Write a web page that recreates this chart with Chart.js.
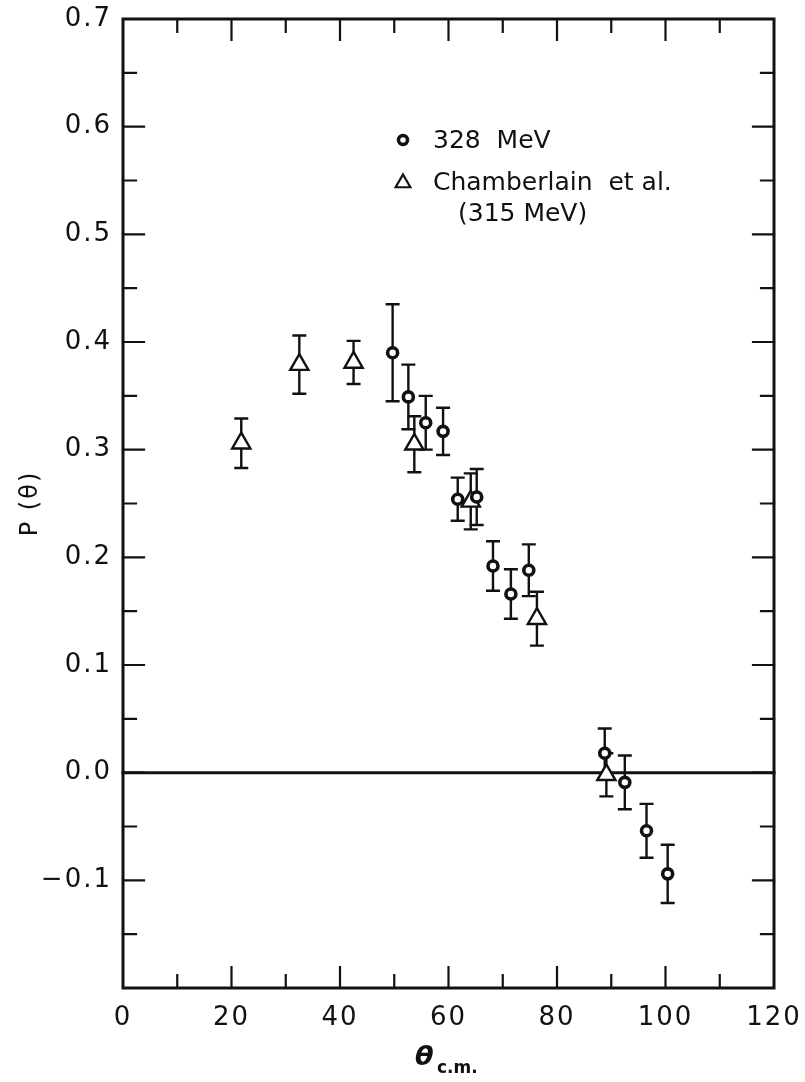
<!DOCTYPE html>
<html>
<head>
<meta charset="utf-8">
<script src="https://cdn.jsdelivr.net/npm/chart.js@4.4.0/dist/chart.umd.min.js"></script>
<style>
  html, body { margin: 0; padding: 0; background: #fff; }
</style>
</head>
<body>
<canvas id="pol" width="805" height="1082"></canvas>
<script>
// Polarization P(theta) versus c.m. angle
const xTickValues = [0, 20, 40, 60, 80, 100, 120];
const xTickLabels = ['0', '20', '40', '60', '80', '100', '120'];
const yTickValues = [0.7, 0.6, 0.5, 0.4, 0.3, 0.2, 0.1, 0.0, -0.1];
const yTickLabels = ['0.7', '0.6', '0.5', '0.4', '0.3', '0.2', '0.1', '0.0', '−0.1'];

// 328 MeV measurements
const theta328 = [49.7, 52.6, 55.8, 59.0, 61.7, 65.2, 68.2, 71.5, 74.8, 88.8, 92.5, 96.5, 100.4];
const pol328   = [0.390, 0.349, 0.325, 0.317, 0.254, 0.256, 0.192, 0.166, 0.188, 0.018, -0.009, -0.054, -0.094];
const err328   = [0.045, 0.030, 0.025, 0.022, 0.020, 0.026, 0.023, 0.023, 0.024, 0.023, 0.025, 0.025, 0.027];

// Chamberlain et al. (315 MeV)
const thetaCham = [21.8, 32.5, 42.5, 53.7, 64.1, 76.3, 89.1];
const polCham   = [0.306, 0.379, 0.381, 0.305, 0.252, 0.143, -0.002];
const errCham   = [0.023, 0.027, 0.020, 0.026, 0.026, 0.025, 0.020];

const ink = '#111';
const fontFam = '"DejaVu Sans", sans-serif';

function pts(xs, ys) {
  return xs.map((x, i) => ({ x: x, y: ys[i] }));
}

function labelFor(values, labels, v) {
  const i = values.findIndex(t => Math.abs(t - v) < 1e-6);
  return i < 0 ? null : labels[i];
}

// wider lettering for all canvas text
const spacing = {
  id: 'spacing',
  beforeDraw(chart) { chart.ctx.letterSpacing = '2px'; },
  afterDraw(chart) { chart.ctx.letterSpacing = '0px'; }
};

// frame, inward ticks and the zero line
const frame = {
  id: 'frame',
  beforeDatasetsDraw(chart) {
    const { ctx, chartArea: a } = chart;
    const xs = chart.scales.x, ys = chart.scales.y;
    ctx.save();
    ctx.strokeStyle = ink;
    ctx.lineCap = 'square';

    ctx.lineWidth = 2.2;
    ctx.beginPath();
    for (let v = 10; v < 120; v += 10) {
      const px = xs.getPixelForValue(v);
      const len = v % 20 === 0 ? 21 : 13;
      ctx.moveTo(px, a.bottom); ctx.lineTo(px, a.bottom - len);
      ctx.moveTo(px, a.top); ctx.lineTo(px, a.top + len);
    }
    for (let k = -3; k <= 13; k++) {
      const v = k * 0.05;
      const py = ys.getPixelForValue(v);
      const len = k % 2 === 0 ? 21 : 13;
      ctx.moveTo(a.left, py); ctx.lineTo(a.left + len, py);
      ctx.moveTo(a.right, py); ctx.lineTo(a.right - len, py);
    }
    ctx.stroke();

    // zero line
    const y0 = ys.getPixelForValue(0);
    ctx.lineWidth = 3;
    ctx.beginPath();
    ctx.moveTo(a.left, y0); ctx.lineTo(a.right, y0);
    ctx.stroke();

    ctx.lineWidth = 3;
    ctx.strokeRect(a.left, a.top, a.right - a.left, a.bottom - a.top);
    ctx.restore();
  }
};

// vertical error bars with caps, under the markers
const errorBars = {
  id: 'errorBars',
  beforeDatasetsDraw(chart) {
    const ctx = chart.ctx;
    const xs = chart.scales.x, ys = chart.scales.y;
    ctx.save();
    ctx.strokeStyle = ink;
    ctx.lineWidth = 2.4;
    chart.data.datasets.forEach(ds => {
      ds.data.forEach((p, i) => {
        const e = ds.yErr[i];
        const px = xs.getPixelForValue(p.x);
        const hi = ys.getPixelForValue(p.y + e);
        const lo = ys.getPixelForValue(p.y - e);
        ctx.beginPath();
        ctx.moveTo(px, hi); ctx.lineTo(px, lo);
        ctx.moveTo(px - 7, hi); ctx.lineTo(px + 7, hi);
        ctx.moveTo(px - 7, lo); ctx.lineTo(px + 7, lo);
        ctx.stroke();
      });
    });
    ctx.restore();
  }
};

// key in the upper part of the plot and the theta_c.m. axis title
const keyAndTitle = {
  id: 'keyAndTitle',
  afterDraw(chart) {
    const ctx = chart.ctx;
    ctx.save();
    ctx.fillStyle = '#fff';
    ctx.strokeStyle = ink;

    ctx.lineWidth = 3.5;
    ctx.beginPath();
    ctx.arc(403, 140, 4.5, 0, Math.PI * 2);
    ctx.fill(); ctx.stroke();

    ctx.lineWidth = 2.2;
    const r = 8.5;
    ctx.beginPath();
    ctx.moveTo(403, 183 - r);
    ctx.lineTo(403 + r * 0.866, 183 + r / 2);
    ctx.lineTo(403 - r * 0.866, 183 + r / 2);
    ctx.closePath();
    ctx.fill(); ctx.stroke();

    ctx.fillStyle = ink;
    ctx.font = '25px ' + fontFam;
    ctx.textBaseline = 'middle';
    ctx.textAlign = 'left';
    ctx.fillText('328  MeV', 433, 141);
    ctx.fillText('Chamberlain  et al.', 433, 183);
    ctx.fillText('(315 MeV)', 458, 214);

    ctx.textBaseline = 'alphabetic';
    ctx.font = 'italic bold 27px ' + fontFam;
    ctx.fillText('θ', 415, 1065);
    ctx.font = 'bold 17px ' + fontFam;
    ctx.fillText('c.m.', 437, 1073);
    ctx.restore();
  }
};

new Chart(document.getElementById('pol'), {
  type: 'scatter',
  data: {
    datasets: [
      {
        label: '328 MeV',
        data: pts(theta328, pol328),
        yErr: err328,
        pointStyle: 'circle',
        radius: 5,
        borderWidth: 3.6,
        borderColor: ink,
        backgroundColor: '#fff'
      },
      {
        label: 'Chamberlain et al. (315 MeV)',
        data: pts(thetaCham, polCham),
        yErr: errCham,
        pointStyle: 'triangle',
        radius: 10.5,
        borderWidth: 2.4,
        borderColor: ink,
        backgroundColor: '#fff'
      }
    ]
  },
  options: {
    responsive: false,
    devicePixelRatio: 1,
    animation: false,
    events: [],
    layout: { padding: { top: 19, right: 31, left: 0, bottom: 0 } },
    plugins: {
      legend: { display: false },
      tooltip: { enabled: false }
    },
    scales: {
      x: {
        type: 'linear',
        min: 0,
        max: 120,
        grid: { display: false, drawTicks: false },
        border: { display: false },
        afterBuildTicks: s => { s.ticks = xTickValues.map(v => ({ value: v })); },
        afterFit: s => { s.height = 94; s.paddingLeft = 0; s.paddingRight = 0; },
        ticks: {
          padding: 15,
          color: ink,
          font: { family: fontFam, size: 26 },
          callback: v => labelFor(xTickValues, xTickLabels, v)
        }
      },
      y: {
        type: 'linear',
        min: -0.2,
        max: 0.7,
        grid: { display: false, drawTicks: false },
        border: { display: false },
        afterBuildTicks: s => { s.ticks = yTickValues.map(v => ({ value: v })); },
        afterFit: s => { s.width = 123; s.paddingTop = 0; s.paddingBottom = 0; },
        title: {
          display: true,
          text: 'P (θ)',
          color: ink,
          font: { family: fontFam, size: 24 },
          padding: { top: 16, bottom: 0 }
        },
        ticks: {
          padding: 11,
          color: ink,
          font: { family: fontFam, size: 26 },
          callback: v => labelFor(yTickValues, yTickLabels, v)
        }
      }
    }
  },
  plugins: [spacing, frame, errorBars, keyAndTitle]
});
</script>
</body>
</html>
